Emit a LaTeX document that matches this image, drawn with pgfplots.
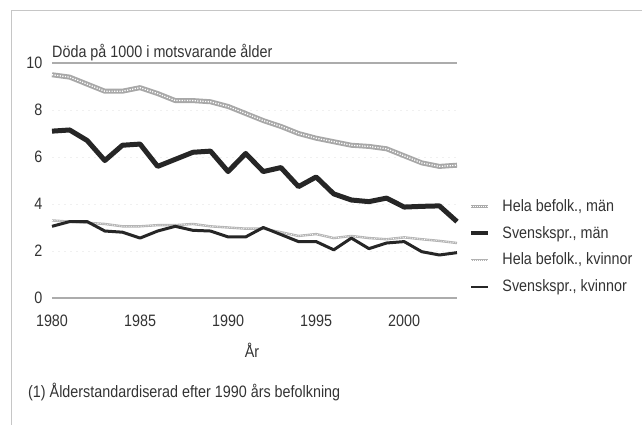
\documentclass[border=0pt]{standalone}
\usepackage{fontspec}
\setmainfont{Liberation Sans}[FakeStretch=0.87]
\usepackage{pgfplots}
\usepackage{pgfplotstable}
\pgfplotsset{compat=1.18}
\pgfplotstableread{
year hm sm hk sk
1980 9.50 7.10 3.30 3.05
1981 9.40 7.15 3.25 3.25
1982 9.10 6.70 3.20 3.25
1983 8.80 5.85 3.15 2.85
1984 8.80 6.50 3.05 2.80
1985 8.95 6.55 3.05 2.55
1986 8.70 5.60 3.10 2.85
1987 8.40 5.90 3.10 3.05
1988 8.40 6.20 3.15 2.88
1989 8.35 6.25 3.05 2.85
1990 8.15 5.38 3.00 2.60
1991 7.85 6.15 2.95 2.60
1992 7.55 5.38 2.95 3.00
1993 7.30 5.55 2.80 2.70
1994 7.00 4.74 2.64 2.40
1995 6.80 5.15 2.72 2.40
1996 6.65 4.43 2.55 2.05
1997 6.50 4.17 2.64 2.55
1998 6.45 4.10 2.55 2.10
1999 6.35 4.25 2.50 2.34
2000 6.05 3.87 2.58 2.40
2001 5.75 3.90 2.50 1.97
2002 5.60 3.92 2.43 1.83
2003 5.65 3.25 2.34 1.93
}\datatable
\definecolor{txt}{gray}{0.2}
\begin{document}
\fontsize{16.5pt}{19pt}\selectfont
\begin{tikzpicture}[x=1pt,y=1pt]
\useasboundingbox (0,0) rectangle (642,425);
\draw[gray!45, line width=0.8pt] (11,0) -- (11,415) -- (642,415);
\begin{axis}[
  at={(52pt,127pt)}, anchor=south west,
  scale only axis, width=405pt, height=235pt,
  xmin=1980, xmax=2003, ymin=0, ymax=10,
  separate axis lines,
  x axis line style={gray!65, line width=1.2pt},
  y axis line style={draw=none},
  major tick length=0pt,
  xtick={1980,1985,...,2000},
  ytick={0,2,...,10},
  ymajorgrids, grid style={gray!12, line width=0.6pt, dash pattern=on 2pt off 4pt},
  xticklabel style={/pgf/number format/1000 sep={}, yshift=-11pt, text=txt},
  yticklabel style={xshift=-4pt, text=txt},
  /pgf/number format/assume math mode=true,
  legend style={at={(1.03,0.43)}, anchor=north west, draw=none, fill=none,
    row sep=8.5pt, column sep=10pt, text=txt, inner sep=0pt, nodes={inner sep=2pt}},
  legend cell align=left,
  clip=false,
]
\addplot[gray!68, line width=5pt, line join=round,
  legend image code/.code={\draw[gray!65, line width=3pt] (0,0)--(0.6cm,0);
    \draw[white, line width=0.8pt, dash pattern=on 0.8pt off 1.2pt] (0,0)--(0.6cm,0);}]
  table[x=year,y=hm]{\datatable};
\addlegendentry{Hela befolk., män}
\addplot[white, line width=1.3pt, dash pattern=on 1.2pt off 1.4pt, forget plot]
  table[x=year,y=hm]{\datatable};
\addplot[black!85, line width=5pt, line join=round,
  legend image code/.code={\draw[black!85, line width=4pt] (0,0)--(0.6cm,0);}]
  table[x=year,y=sm]{\datatable};
\addlegendentry{Svenskspr., män}
\addplot[gray!58, line width=2.4pt, line join=round,
  legend image code/.code={\draw[gray!60, line width=2pt] (0,0)--(0.6cm,0);
    \draw[white, line width=0.5pt, dash pattern=on 0.8pt off 1.2pt] (0,0)--(0.6cm,0);}]
  table[x=year,y=hk]{\datatable};
\addlegendentry{Hela befolk., kvinnor}
\addplot[white, line width=0.6pt, dash pattern=on 1pt off 1.4pt, forget plot]
  table[x=year,y=hk]{\datatable};
\addplot[black!85, line width=3pt, line join=round,
  legend image code/.code={\draw[black!85, line width=2.5pt] (0,0)--(0.6cm,0);}]
  table[x=year,y=sk]{\datatable};
\addlegendentry{Svenskspr., kvinnor}
\end{axis}
\node[anchor=base west, inner sep=0pt, text=txt] at (52,367) {Döda på 1000 i motsvarande ålder};
\node[inner sep=0pt, text=txt] at (252,75) {År};
\node[anchor=west, inner sep=0pt, text=txt] at (28,33) {(1) Ålderstandardiserad efter 1990 års befolkning};
\end{tikzpicture}
\end{document}
